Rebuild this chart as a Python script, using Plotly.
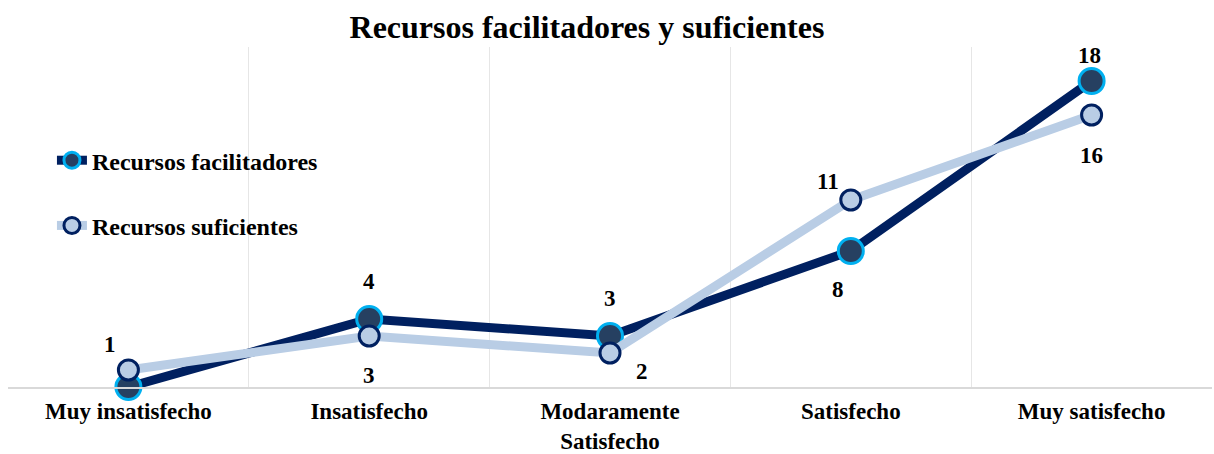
import plotly.graph_objects as go

categories = ["Muy insatisfecho", "Insatisfecho", "Modaramente Satisfecho", "Satisfecho", "Muy satisfecho"]
tick_labels = ["Muy insatisfecho", "Insatisfecho", "Modaramente<br>Satisfecho", "Satisfecho", "Muy satisfecho"]
facilitadores = [0, 4, 3, 8, 18]
suficientes = [1, 3, 2, 11, 16]

# label offsets (px) for data labels: (xshift, yshift)
fac_shift = [None, (0, 38), (0, 38), (-13, -38), (-2, 26)]
suf_shift = [(-18, 26), (0, -39), (32, -18), (-23, 19), (0, -40)]

FONT = "Liberation Serif"
NAVY = "#002060"
CYAN = "#00B0F0"
DARKFILL = "#264061"
LIGHT = "#B9CDE5"

fig = go.Figure()
fig.add_trace(go.Scatter(
    x=categories, y=facilitadores, name="Recursos facilitadores",
    mode="lines+markers", legendgroup="a",
    line=dict(color=NAVY, width=9),
    marker=dict(size=25, color=DARKFILL, line=dict(color=CYAN, width=3)),
    cliponaxis=False,
))
fig.add_trace(go.Scatter(
    x=categories, y=suficientes, name="Recursos suficientes",
    mode="lines+markers", legendgroup="b",
    line=dict(color=LIGHT, width=9),
    marker=dict(size=20, color=LIGHT, line=dict(color=NAVY, width=3)),
    cliponaxis=False,
))

annotations = []
for series, shifts in ((facilitadores, fac_shift), (suficientes, suf_shift)):
    for c, v, s in zip(categories, series, shifts):
        if s is None:
            continue
        annotations.append(dict(
            x=c, y=v, xref="x", yref="y", text=f"<b>{v}</b>", showarrow=False,
            xshift=s[0], yshift=s[1],
            font=dict(family=FONT, size=23, color="black"),
        ))

fig.update_layout(
    width=1214, height=454,
    margin=dict(l=8, r=2, t=47, b=67),
    paper_bgcolor="white", plot_bgcolor="white",
    title=dict(text="<b>Recursos facilitadores y suficientes</b>",
               x=0.4835, xref="container", xanchor="center",
               y=0.9405, yref="container", yanchor="middle",
               font=dict(family=FONT, size=32, color="black")),
    font=dict(family=FONT, size=24, color="black"),
    showlegend=True,
    legend=dict(x=0.0365, y=0.732, xanchor="left", yanchor="top",
                bgcolor="rgba(0,0,0,0)", tracegroupgap=31,
                traceorder="grouped",
                font=dict(family=FONT, size=24, color="black", weight="bold")),
    annotations=annotations,
)
fig.update_xaxes(
    type="category", tickson="boundaries",
    tickvals=categories, ticktext=[f"<b>{t}</b>" for t in tick_labels],
    showgrid=True, gridcolor="#E6E6E6", gridwidth=1,
    showline=True, linecolor="#D9D9D9", linewidth=2,
    ticks="", tickfont=dict(family=FONT, size=23, color="black"),
    ticklabelstandoff=2,
    range=[-0.5, 4.5], zeroline=False, automargin=False,
)
fig.update_yaxes(range=[0, 20], showgrid=False, showticklabels=False,
                 zeroline=False, showline=False, ticks="", automargin=False)

fig.write_html("out.html", config={"displayModeBar": False},
               post_script="document.body.style.margin='0';document.body.style.overflow='hidden';")
